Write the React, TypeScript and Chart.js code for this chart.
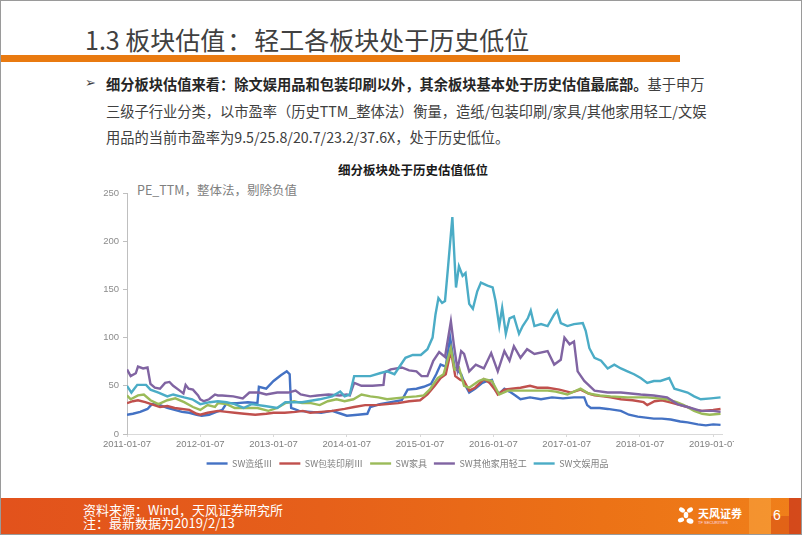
import React, { useEffect, useRef } from 'react';
import { Chart, registerables } from 'chart.js';

Chart.register(...registerables);

// ---- data (x = years since 2011-01-07, y = PE_TTM) ----
const seriesNames = ['SW造纸Ⅲ', 'SW包装印刷Ⅲ', 'SW家具', 'SW其他家用轻工', 'SW文娱用品'];

const xTickLabels = [
  '2011-01-07', '2012-01-07', '2013-01-07', '2014-01-07', '2015-01-07',
  '2016-01-07', '2017-01-07', '2018-01-07', '2019-01-07',
];

const yTickValues = [0, 50, 100, 150, 200, 250];

const paperPE: [number, number][] = [
  [0, 20], [0.08, 21], [0.18, 23], [0.28, 26], [0.34, 31], [0.45, 30], [0.55, 27], [0.65, 25],
  [0.75, 23], [0.85, 22], [0.95, 20], [1.02, 19], [1.12, 20], [1.22, 23], [1.3, 25], [1.36, 32],
  [1.5, 32], [1.65, 33], [1.78, 32], [1.8, 49], [1.9, 47], [2.0, 55], [2.1, 61], [2.18, 65],
  [2.22, 62], [2.24, 27], [2.35, 24], [2.5, 23], [2.65, 22], [2.8, 24], [2.92, 21], [3.0, 19],
  [3.15, 20], [3.28, 21], [3.32, 28], [3.45, 31], [3.6, 33], [3.75, 35], [3.83, 46], [3.95, 47],
  [4.05, 49], [4.15, 52], [4.22, 62], [4.28, 72], [4.35, 70], [4.41, 100], [4.47, 69], [4.56, 62],
  [4.62, 50], [4.67, 43], [4.75, 47], [4.85, 53], [4.92, 55], [4.98, 56], [5.03, 45], [5.08, 42],
  [5.15, 47], [5.22, 44], [5.3, 40], [5.37, 36], [5.5, 38], [5.65, 36], [5.8, 38], [5.95, 37],
  [6.1, 38], [6.24, 38], [6.28, 30], [6.33, 27], [6.45, 27], [6.56, 26], [6.65, 25], [6.74, 24],
  [6.85, 20], [6.97, 18], [7.08, 17], [7.19, 16], [7.3, 16], [7.42, 15], [7.55, 13], [7.65, 12],
  [7.79, 10], [7.9, 9], [8.0, 10], [8.1, 9.5],
];

const packagingPE: [number, number][] = [
  [0, 32], [0.08, 34], [0.15, 35], [0.25, 33], [0.33, 31], [0.45, 28], [0.55, 29], [0.65, 27],
  [0.75, 26], [0.85, 25], [0.95, 21], [1.0, 20], [1.1, 22], [1.24, 24], [1.36, 23], [1.47, 22],
  [1.6, 21], [1.75, 20], [1.9, 21], [2.0, 22], [2.15, 22], [2.3, 23], [2.4, 24], [2.5, 22],
  [2.65, 23], [2.8, 24], [2.97, 26], [3.1, 28], [3.25, 30], [3.4, 30], [3.55, 31], [3.7, 32],
  [3.85, 34], [4.0, 35], [4.1, 41], [4.2, 50], [4.28, 58], [4.35, 62], [4.42, 86], [4.48, 60],
  [4.55, 56], [4.6, 55], [4.67, 45], [4.75, 48], [4.87, 57], [4.95, 53], [5.03, 45], [5.06, 41],
  [5.15, 46], [5.25, 47], [5.37, 48], [5.5, 50], [5.6, 48], [5.74, 48], [5.9, 46], [6.06, 43],
  [6.19, 46], [6.3, 42], [6.38, 40], [6.5, 39], [6.6, 38], [6.74, 36], [6.9, 35], [7.05, 33],
  [7.1, 30], [7.2, 34], [7.3, 35], [7.4, 33], [7.5, 31], [7.65, 28], [7.75, 25], [7.85, 24],
  [8.0, 25], [8.1, 26],
];

const furniturePE: [number, number][] = [
  [0, 40], [0.05, 36], [0.15, 40], [0.23, 41], [0.32, 35], [0.43, 31], [0.55, 35], [0.66, 37],
  [0.78, 33], [0.9, 28], [1.0, 25], [1.1, 30], [1.2, 28], [1.24, 32], [1.36, 31], [1.47, 27],
  [1.6, 27], [1.78, 27], [1.93, 24], [2.05, 27], [2.16, 32], [2.28, 34], [2.39, 32], [2.51, 32],
  [2.63, 30], [2.74, 34], [2.86, 36], [2.97, 34], [3.09, 36], [3.2, 41], [3.32, 39], [3.43, 38],
  [3.55, 36], [3.78, 38], [3.95, 39], [4.05, 40], [4.13, 46], [4.24, 58], [4.32, 62], [4.42, 89],
  [4.47, 67], [4.53, 69], [4.6, 50], [4.67, 48], [4.8, 55], [4.87, 57], [4.98, 55], [5.08, 41],
  [5.2, 45], [5.37, 45], [5.6, 45], [5.74, 45], [5.85, 44], [6.01, 41], [6.19, 47], [6.3, 42],
  [6.45, 40], [6.6, 39], [6.83, 38], [7.1, 38], [7.25, 37], [7.37, 36], [7.5, 33], [7.6, 30],
  [7.74, 24], [7.85, 21], [7.95, 20], [8.1, 21],
];

const otherLightPE: [number, number][] = [
  [0, 67], [0.05, 60], [0.12, 63], [0.15, 70], [0.22, 68], [0.28, 69], [0.32, 52], [0.38, 48],
  [0.45, 47], [0.52, 53], [0.58, 54], [0.63, 50], [0.72, 45], [0.77, 42], [0.8, 51], [0.84, 47],
  [0.9, 46], [0.97, 40], [1.0, 36], [1.05, 34], [1.12, 36], [1.2, 41], [1.24, 40], [1.3, 40],
  [1.45, 39], [1.58, 37], [1.67, 43], [1.8, 43], [1.9, 41], [2.05, 43], [2.2, 43], [2.3, 45],
  [2.37, 41], [2.5, 39], [2.6, 40], [2.75, 41], [2.9, 40], [3.0, 41], [3.04, 40], [3.1, 53],
  [3.2, 50], [3.35, 50], [3.5, 51], [3.52, 64], [3.6, 67], [3.75, 69], [3.85, 66], [3.95, 65],
  [4.02, 60], [4.1, 60], [4.18, 76], [4.26, 85], [4.34, 80], [4.42, 117], [4.46, 93], [4.51, 67],
  [4.56, 86], [4.6, 83], [4.67, 65], [4.76, 72], [4.87, 68], [4.97, 84], [5.06, 65], [5.15, 86],
  [5.22, 76], [5.28, 91], [5.37, 79], [5.46, 88], [5.56, 83], [5.74, 86], [5.83, 72], [5.92, 77],
  [5.97, 100], [6.04, 93], [6.1, 96], [6.15, 65], [6.24, 55], [6.38, 45], [6.56, 43], [6.74, 43],
  [7.01, 41], [7.19, 40], [7.37, 38], [7.51, 31], [7.65, 28], [7.83, 24], [8.0, 24], [8.1, 23],
];

const stationeryPE: [number, number][] = [
  [0, 50], [0.06, 43], [0.14, 51], [0.26, 51], [0.32, 46], [0.43, 43], [0.55, 39], [0.63, 41],
  [0.78, 38], [0.89, 36], [1.0, 31], [1.13, 33], [1.24, 34], [1.36, 33], [1.47, 31], [1.59, 27],
  [1.7, 31], [1.88, 29], [2.05, 27], [2.16, 33], [2.39, 33], [2.63, 36], [2.8, 39], [2.91, 44],
  [2.97, 39], [3.04, 41], [3.1, 60], [3.2, 60], [3.32, 60], [3.45, 63], [3.55, 65], [3.65, 62],
  [3.72, 70], [3.8, 79], [3.9, 82], [4.01, 82], [4.1, 88], [4.17, 100], [4.21, 124], [4.25, 141],
  [4.3, 136], [4.34, 138], [4.38, 172], [4.44, 225], [4.49, 152], [4.53, 174], [4.58, 164],
  [4.62, 167], [4.67, 135], [4.72, 130], [4.78, 148], [4.83, 157], [4.92, 154], [4.99, 152],
  [5.03, 138], [5.08, 112], [5.12, 131], [5.17, 104], [5.22, 120], [5.28, 122], [5.35, 104],
  [5.4, 112], [5.47, 120], [5.51, 128], [5.56, 112], [5.65, 114], [5.74, 112], [5.83, 124],
  [5.87, 128], [5.92, 115], [6.01, 112], [6.1, 114], [6.22, 115], [6.26, 107], [6.31, 89],
  [6.38, 79], [6.47, 76], [6.56, 68], [6.65, 72], [6.74, 68], [6.83, 65], [6.92, 62], [7.01, 58],
  [7.1, 53], [7.19, 55], [7.28, 55], [7.4, 58], [7.47, 47], [7.56, 45], [7.65, 43], [7.74, 39],
  [7.83, 36], [7.97, 37], [8.1, 38],
];

const seriesData = [paperPE, packagingPE, furniturePE, otherLightPE, stationeryPE];

// ---- styles ----
const seriesColors = ['#4472C4', '#C0504D', '#9BBB59', '#8064A2', '#4BACC6'];
const FONT = "'Liberation Sans', 'Noto Sans CJK SC', sans-serif";
const CJK = "'Noto Sans CJK SC', 'Liberation Sans', sans-serif";

function PEChart() {
  const ref = useRef<HTMLCanvasElement | null>(null);
  useEffect(() => {
    if (!ref.current) return;
    const n = seriesNames.length;
    const chart = new Chart(ref.current, {
      type: 'line',
      data: {
        datasets: seriesNames.map((name, i) => ({
          label: name,
          data: seriesData[i],
          borderColor: seriesColors[i],
          backgroundColor: seriesColors[i],
          borderWidth: 2.4,
          pointRadius: 0,
          tension: 0,
          pointStyle: 'line',
          order: n - 1 - i,
        })),
      },
      options: {
        responsive: false,
        animation: false,
        devicePixelRatio: 1,
        layout: { padding: { top: 37, left: 0, right: 31, bottom: 0 } },
        plugins: {
          legend: {
            position: 'bottom',
            labels: {
              usePointStyle: true,
              pointStyle: 'line',
              pointStyleWidth: 21,
              padding: 7,
              color: '#7f7f7f',
              font: { size: 9, family: CJK },
              sort: (a: any, b: any) => a.datasetIndex - b.datasetIndex,
            },
          },
          title: { display: false },
          tooltip: { enabled: false },
        },
        scales: {
          x: {
            type: 'linear',
            min: 0,
            max: 8.12,
            afterBuildTicks: (scale: any) => {
              scale.ticks = xTickLabels.map((_, i) => ({ value: i }));
            },
            afterFit: (scale: any) => {
              scale.height = 18;
            },
            ticks: {
              autoSkip: false,
              maxRotation: 0,
              padding: 2,
              color: '#7f7f7f',
              font: { size: 9.5, family: FONT },
              callback: (v: any) => xTickLabels[v] ?? '',
            },
            grid: { drawOnChartArea: false, tickLength: 3, color: '#d9d9d9' },
            border: { color: '#d9d9d9', width: 1 },
          },
          y: {
            min: 0,
            max: 250,
            afterBuildTicks: (scale: any) => {
              scale.ticks = yTickValues.map((v) => ({ value: v }));
            },
            afterFit: (scale: any) => {
              scale.width = 34;
            },
            ticks: {
              padding: 4,
              color: '#8c8c8c',
              font: { size: 9.5, family: FONT },
            },
            grid: { drawOnChartArea: false, tickLength: 4, color: '#bfbfbf' },
            border: { color: '#bfbfbf', width: 1 },
          },
        },
      },
    } as any);
    return () => chart.destroy();
  }, []);
  return (
    <div style={{ position: 'absolute', left: 92, top: 155, width: 641, height: 322, overflow: 'hidden' }}>
      <canvas ref={ref} width={660} height={322} style={{ display: 'block' }} />
    </div>
  );
}

function Logo() {
  return (
    <div style={{ position: 'absolute', left: 676, top: 503, width: 70, height: 26 }}>
      <svg width="18" height="22" viewBox="0 0 18 22" style={{ position: 'absolute', left: 0, top: 1 }}>
        <ellipse cx="5" cy="5" rx="3.2" ry="2.2" fill="#fff" transform="rotate(30 5 5)" />
        <ellipse cx="13" cy="5" rx="3.2" ry="2.2" fill="#fff" transform="rotate(-30 13 5)" />
        <ellipse cx="9" cy="10" rx="2.3" ry="3.2" fill="#fff" />
        <ellipse cx="4" cy="15" rx="3.2" ry="2.2" fill="#fff" transform="rotate(-20 4 15)" />
        <ellipse cx="13" cy="16" rx="3.5" ry="2.6" fill="#fff" transform="rotate(20 13 16)" />
      </svg>
      <div style={{ position: 'absolute', left: 21, top: 3, fontFamily: CJK, fontSize: 11, lineHeight: '12px', color: '#fff', fontWeight: 700, whiteSpace: 'nowrap' }}>
        天风证券
      </div>
      <div style={{ position: 'absolute', left: 21, top: 16, fontFamily: FONT, fontSize: 4, lineHeight: '5px', color: '#fde', whiteSpace: 'nowrap' }}>
        TF SECURITIES
      </div>
    </div>
  );
}

export default function App() {
  return (
    <div
      style={{
        position: 'absolute',
        left: 0,
        top: 0,
        width: 802,
        height: 535,
        boxSizing: 'border-box',
        border: '1px solid #9a9a9a',
        background: '#fff',
        overflow: 'hidden',
      }}
    >
      {/* slide title */}
      <div style={{ position: 'absolute', left: 84, top: 25, fontFamily: CJK, fontSize: 25, lineHeight: '27px', color: '#404040', whiteSpace: 'nowrap' }}>
        1.3 板块估值<span style={{ margin: '0 2px' }}>：</span>轻工各板块处于历史低位
      </div>
      <div style={{ position: 'absolute', left: 0, top: 54, width: 679, height: 7, background: '#E97A10' }} />

      {/* bullet text */}
      <div style={{ position: 'absolute', left: 84, top: 74, fontFamily: "'DejaVu Sans', sans-serif", fontSize: 13, lineHeight: '16px', color: '#404040' }}>➢</div>
      <div style={{ position: 'absolute', left: 105, top: 70, fontFamily: CJK, fontSize: 14.25, lineHeight: '26.5px', color: '#404040', whiteSpace: 'nowrap' }}>
        <div>
          <span style={{ fontWeight: 700, color: '#262626' }}>细分板块估值来看：除文娱用品和包装印刷以外，其余板块基本处于历史估值最底部。</span>
          基于申万
        </div>
        <div>三级子行业分类，以市盈率（历史TTM_整体法）衡量，造纸/包装印刷/家具/其他家用轻工/文娱</div>
        <div>用品的当前市盈率为9.5/25.8/20.7/23.2/37.6X，处于历史低位。</div>
      </div>

      {/* chart title & note */}
      <div style={{ position: 'absolute', left: 412, top: 161, transform: 'translateX(-50%)', fontFamily: CJK, fontSize: 12.5, lineHeight: '16px', fontWeight: 700, color: '#1a1a1a', whiteSpace: 'nowrap' }}>
        细分板块处于历史估值低位
      </div>
      <div style={{ position: 'absolute', left: 136, top: 181, fontFamily: CJK, fontSize: 12.5, lineHeight: '16px', color: '#808080', whiteSpace: 'nowrap' }}>
        PE_TTM，整体法，剔除负值
      </div>

      <PEChart />

      {/* footer */}
      <div
        style={{
          position: 'absolute',
          left: 0,
          top: 497,
          width: 802,
          height: 38,
          background: 'linear-gradient(to right, #E2521C 0%, #E6601A 40%, #EC7216 75%, #F0801A 100%)',
        }}
      />
      <div style={{ position: 'absolute', left: 748, top: 497, width: 22, height: 38, background: 'rgba(255,190,90,0.35)' }} />
      <div style={{ position: 'absolute', left: 770, top: 515, width: 18, height: 20, background: 'rgba(200,50,20,0.35)' }} />
      <div style={{ position: 'absolute', left: 788, top: 497, width: 14, height: 38, background: 'rgba(190,30,30,0.55)' }} />
      <div style={{ position: 'absolute', left: 82, top: 502, fontFamily: CJK, fontSize: 13, lineHeight: '13px', color: '#fff', whiteSpace: 'nowrap' }}>
        资料来源：Wind，天风证券研究所
      </div>
      <div style={{ position: 'absolute', left: 82, top: 515, fontFamily: CJK, fontSize: 13, lineHeight: '13px', color: '#fff', whiteSpace: 'nowrap' }}>
        注：最新数据为2019/2/13
      </div>
      <Logo />
      <div style={{ position: 'absolute', left: 772, top: 506, fontFamily: FONT, fontSize: 14, lineHeight: '16px', color: '#fff' }}>6</div>
    </div>
  );
}
